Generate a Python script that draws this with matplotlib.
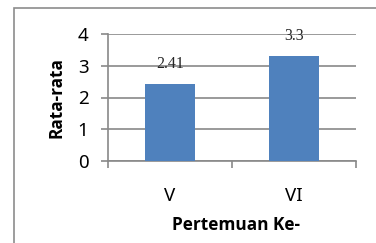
import matplotlib
matplotlib.use("Agg")
import matplotlib.pyplot as plt
from matplotlib.patches import Rectangle

# data
categories = ["V", "VI"]
values = [2.41, 3.3]
value_labels = ["2.41", "3.3"]
yticks = [0, 1, 2, 3, 4]

plt.rcParams['font.family'] = ['Noto Sans', 'DejaVu Sans']

W, H = 376, 243
fig = plt.figure(figsize=(W / 100, H / 100), dpi=100)
fig.patch.set_facecolor('white')

# outer frame of the embedded chart (cut on the right and bottom)
fig.patches.append(Rectangle((14 / W, -0.1), 1.2, 1 - 8 / H + 0.1, transform=fig.transFigure,
                             fill=False, edgecolor='#8c8c8c', linewidth=1.2, zorder=0))

ax = fig.add_axes([108 / W, 1 - 161 / H, (356 - 108) / W, (161 - 34) / H])
grid_col = '#898989'

x = list(range(len(categories)))
ax.bar(x, values, width=0.4, color='#4F81BD', zorder=3)
for xi, v, lab in zip(x, values, value_labels):
    ax.annotate(lab, (xi, v), xytext=(0, 14.5), textcoords='offset points',
                ha='center', va='center', fontsize=11.5, family='Liberation Serif',
                color='#262626')

ax.set_xlim(-0.5, len(categories) - 0.5)
ax.set_ylim(0, 4)
ax.set_yticks(yticks)
ax.grid(axis='y', color=grid_col, linewidth=1.2, zorder=0)

# category boundaries as major ticks, names as minor ticks
ax.set_xticks([i - 0.5 for i in range(len(categories) + 1)])
ax.set_xticklabels([])
ax.set_xticks(x, minor=True)
ax.set_xticklabels(categories, minor=True, fontsize=13.5)
ax.tick_params(axis='x', which='major', length=5, width=1.2, color=grid_col, direction='out')
ax.tick_params(axis='x', which='minor', length=0, pad=18.5)
ax.tick_params(axis='y', length=5, width=1.2, color=grid_col, direction='out', pad=9,
               labelsize=13.5)

for s in ['top', 'right']:
    ax.spines[s].set_visible(False)
ax.spines['left'].set_color(grid_col)
ax.spines['left'].set_linewidth(1.2)
ax.spines['bottom'].set_color(grid_col)
ax.spines['bottom'].set_linewidth(1.2)
ax.spines['left'].set_bounds(0, 4)

ax.set_ylabel('Rata-rata', fontsize=12.4, fontweight='bold', family='Open Sans')
ax.yaxis.set_label_coords(-0.206, 0.496)
ax.yaxis.label.set_va('center')
ax.set_xlabel('Pertemuan Ke-', fontsize=12.4, fontweight='bold', family='Open Sans')
ax.xaxis.set_label_coords(0.516, -0.504)
ax.xaxis.label.set_va('center')

fig.savefig('out.png', dpi=100)
